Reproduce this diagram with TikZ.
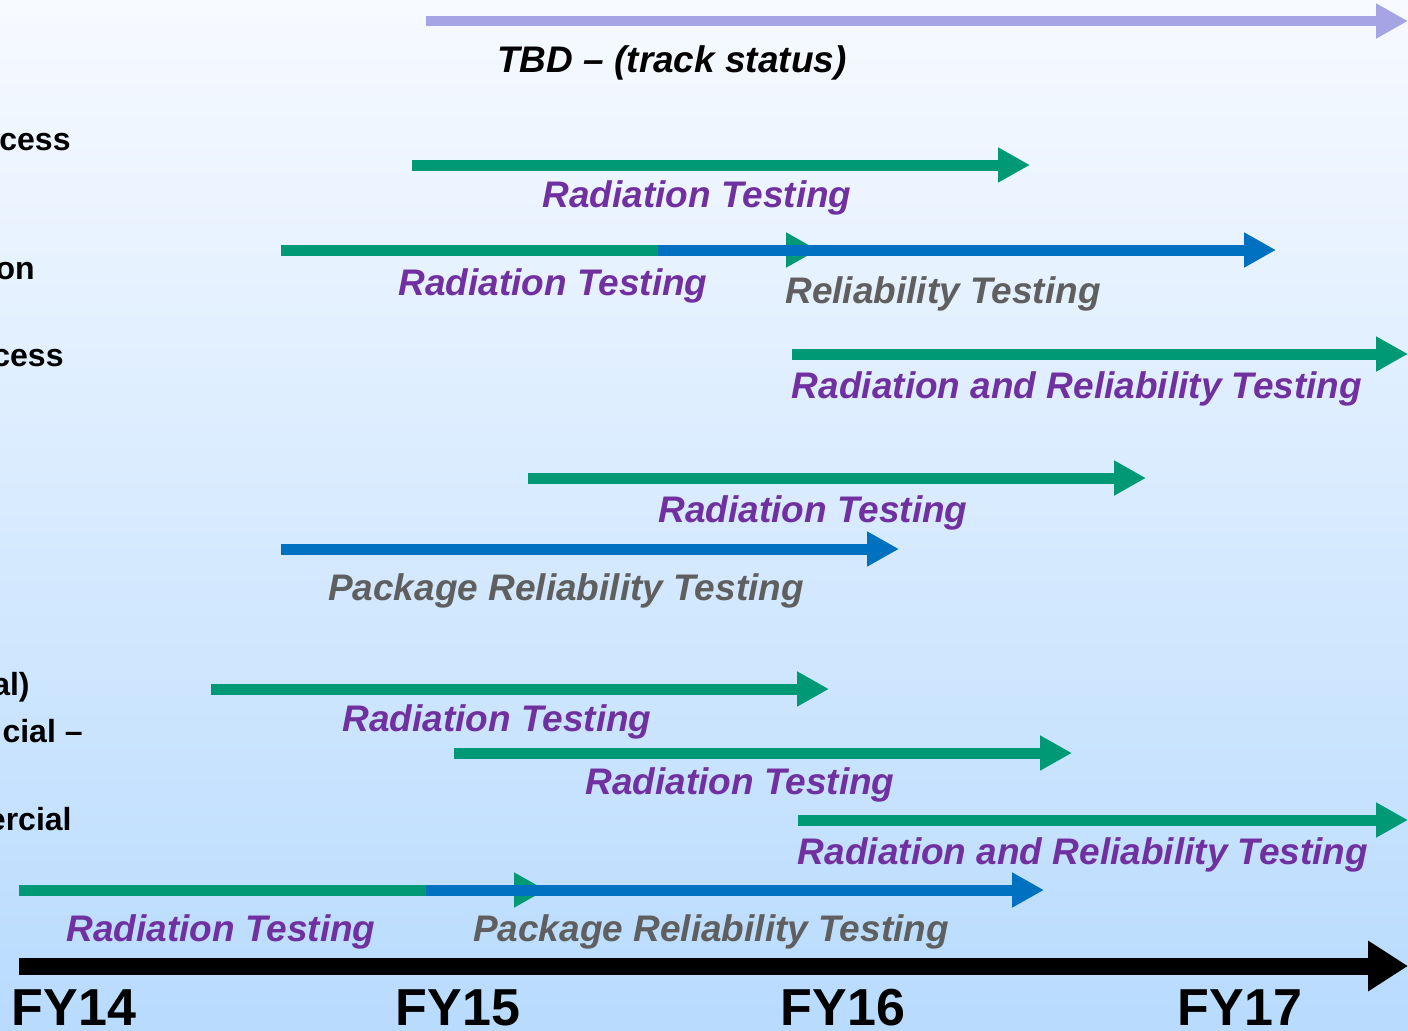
\documentclass[tikz,border=0pt]{standalone}
\usepackage{fontspec}
\setmainfont{Liberation Sans}
\usetikzlibrary{arrows.meta}
\definecolor{bgtop}{RGB}{247,250,255}
\definecolor{bgbot}{RGB}{184,219,254}
\definecolor{rgreen}{RGB}{0,153,118}
\definecolor{rblue}{RGB}{0,112,192}
\definecolor{rlav}{RGB}{165,165,230}
\definecolor{rpurple}{RGB}{112,48,160}
\definecolor{rgray}{RGB}{95,95,95}
\tikzset{
  bar/.style={line width=5.5pt, -{Triangle[length=16pt,width=16.5pt]}},
  gbar/.style={bar, draw=rgreen},
  bbar/.style={bar, draw=rblue},
  lbar/.style={line width=5pt, draw=rlav, -{Triangle[length=16pt,width=16.5pt]}},
  axisbar/.style={line width=8.5pt, draw=black, -{Triangle[length=20pt,width=24pt]}},
  lbl/.style={inner sep=0pt, anchor=base, font=\fontsize{18.5pt}{20pt}\selectfont\bfseries\itshape},
  rad/.style={lbl, text=rpurple},
  rel/.style={lbl, text=rgray},
  yr/.style={inner sep=0pt, anchor=base, font=\fontsize{26pt}{28pt}\selectfont\bfseries},
  side/.style={inner sep=0pt, anchor=base east, font=\fontsize{16pt}{18pt}\selectfont\bfseries}
}
\begin{document}
\begin{tikzpicture}[x=0.5pt,y=-0.5pt]
\shade[top color=bgtop, bottom color=bgbot] (0,0) rectangle (1408,1030);
\useasboundingbox (0,0) rectangle (1408,1030);

% side labels (cut at left edge)
\node[side] (s1) at (71,150) {cess};
\node[side] (s2) at (35,279) {on};
\node[side] (s3) at (64,366) {cess};
\node[side] (s4) at (30,695) {al)};
\node[side] (s5) at (83,742) {cial –};
\node[side] (s6) at (72,830) {ercial};

% coordinates
\coordinate (a1s) at (426,21);  \coordinate (a1e) at (1408,21);
\coordinate (a2s) at (412,165); \coordinate (a2e) at (1030,165);
\coordinate (a3s) at (281,250); \coordinate (a3e) at (818,250);
\coordinate (b3s) at (658,250); \coordinate (b3e) at (1276,250);
\coordinate (a4s) at (792,354); \coordinate (a4e) at (1408,354);
\coordinate (a5s) at (528,478); \coordinate (a5e) at (1146,478);
\coordinate (b6s) at (281,549); \coordinate (b6e) at (899,549);
\coordinate (a7s) at (211,689); \coordinate (a7e) at (829,689);
\coordinate (a8s) at (454,753); \coordinate (a8e) at (1072,753);
\coordinate (a9s) at (798,820); \coordinate (a9e) at (1408,820);
\coordinate (a10s) at (19,890); \coordinate (a10e) at (546,890);
\coordinate (b10s) at (426,890); \coordinate (b10e) at (1044,890);
\coordinate (axs) at (19,966);  \coordinate (axe) at (1408,966);

% arrows
\draw[lbar] (a1s) -- (a1e);
\draw[gbar] (a2s) -- (a2e);
\draw[gbar] (a3s) -- (a3e);
\draw[bbar] (b3s) -- (b3e);
\draw[gbar] (a4s) -- (a4e);
\draw[gbar] (a5s) -- (a5e);
\draw[bbar] (b6s) -- (b6e);
\draw[gbar] (a7s) -- (a7e);
\draw[gbar] (a8s) -- (a8e);
\draw[gbar] (a9s) -- (a9e);
\draw[gbar] (a10s) -- (a10e);
\draw[bbar] (b10s) -- (b10e);
\draw[axisbar] (axs) -- (axe);

% labels
\node[lbl] (t1) at (672,72) {TBD – (track status)};
\node[rad] (t2) at (697,207) {Radiation Testing};
\node[rad] (t3) at (553,295) {Radiation Testing};
\node[rel] (t4) at (943,303) {Reliability Testing};
\node[rad] (t5) at (1077,398) {Radiation and Reliability Testing};
\node[rad] (t6) at (813,522) {Radiation Testing};
\node[rel] (t7) at (566,600) {Package Reliability Testing};
\node[rad] (t8) at (497,731) {Radiation Testing};
\node[rad] (t9) at (740,794) {Radiation Testing};
\node[rad] (t10) at (1083,864) {Radiation and Reliability Testing};
\node[rad] (t11) at (221,941) {Radiation Testing};
\node[rel] (t12) at (711,941) {Package Reliability Testing};

% years
\node[yr] (y14) at (74,1025) {FY14};
\node[yr] (y15) at (458,1025) {FY15};
\node[yr] (y16) at (843,1025) {FY16};
\node[yr] (y17) at (1240,1025) {FY17};
\end{tikzpicture}
\end{document}
